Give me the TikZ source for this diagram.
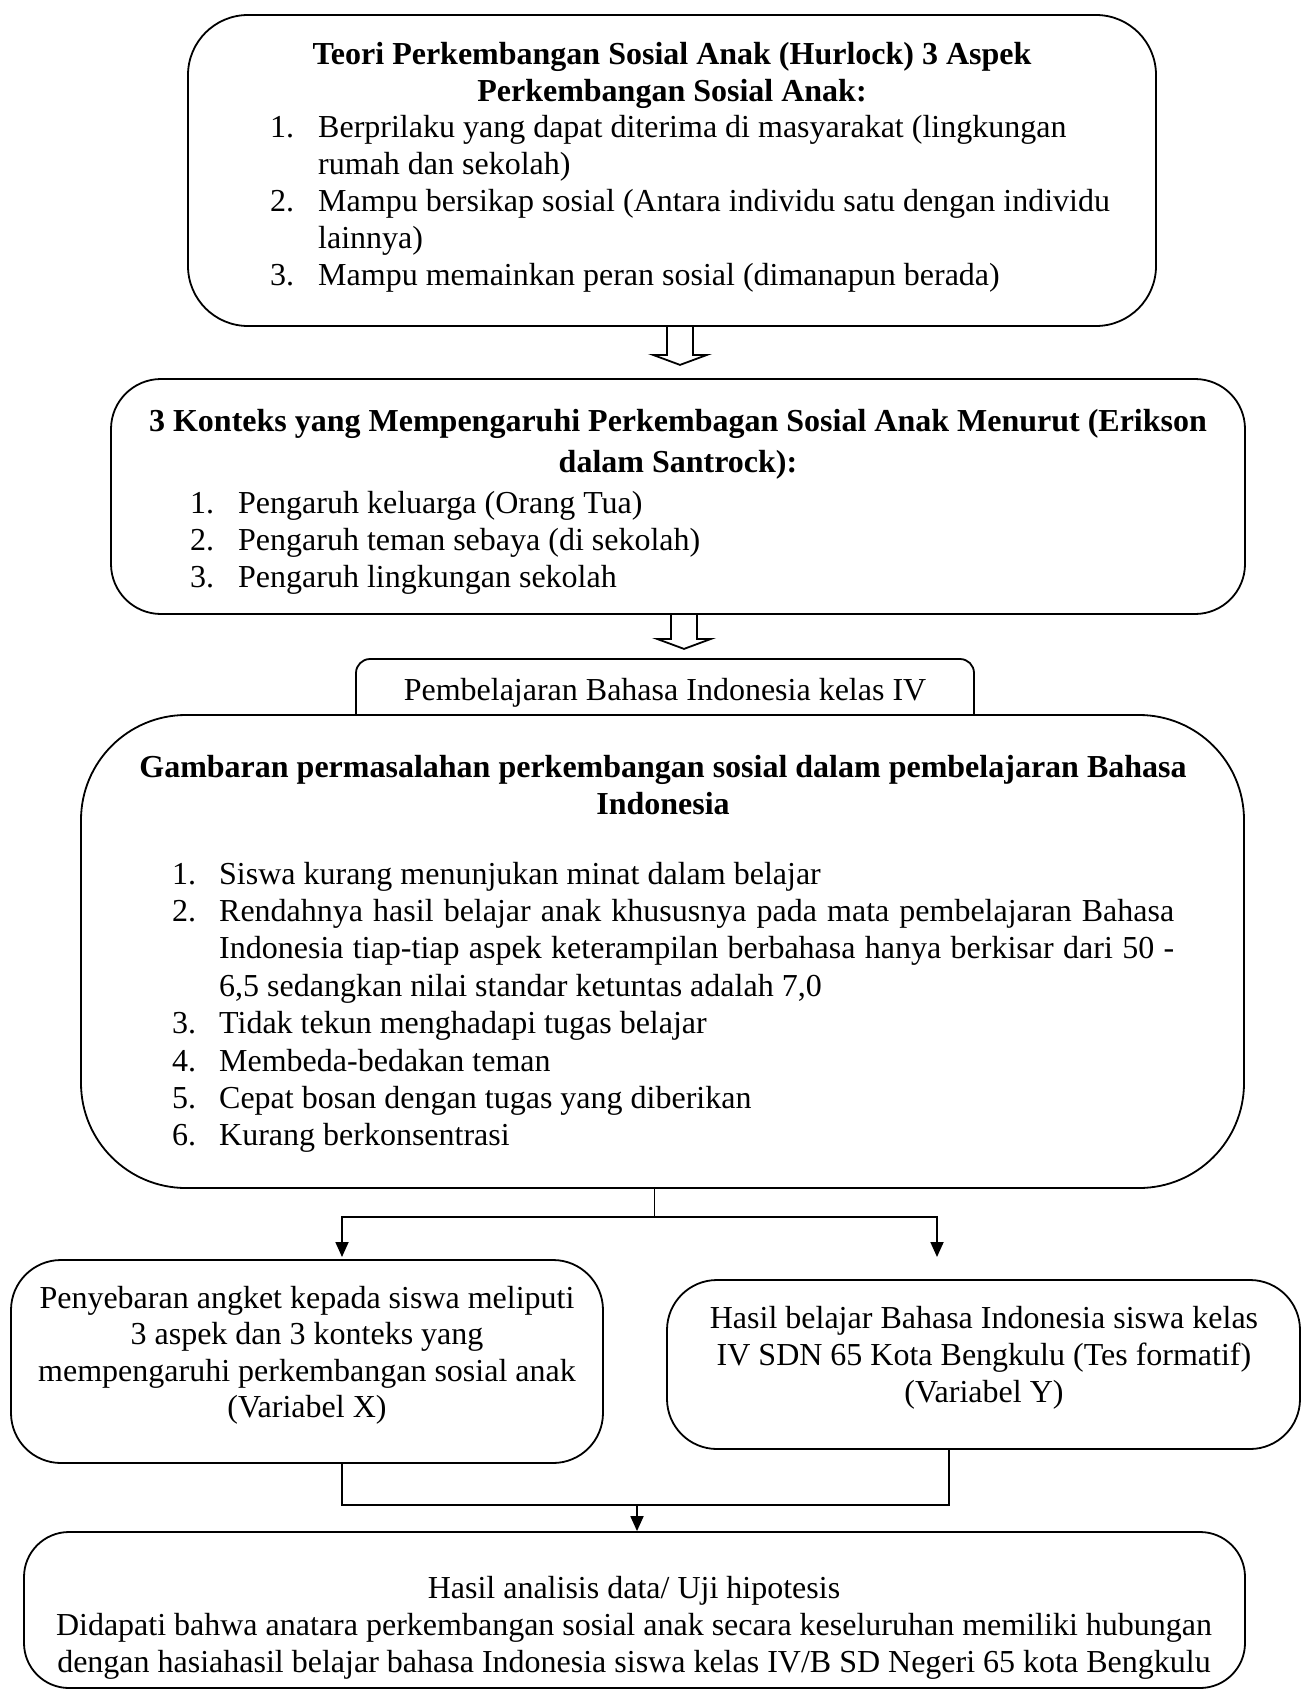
\documentclass[tikz,border=0pt]{standalone}
\usepackage{fontspec}
\setmainfont{Liberation Serif}
\usetikzlibrary{arrows.meta,calc}
\begin{document}
\begin{tikzpicture}[x=1pt,y=-1pt,
  box/.style={draw, line width=1.8pt, inner sep=0pt, fill=white},
  txt/.style={inner sep=0pt, anchor=north, align=center, font=\fontsize{32}{37}\selectfont},
  lst/.style={inner sep=0pt, anchor=north west, align=left, font=\fontsize{32}{37}\selectfont},
  conn/.style={line width=1.8pt},
  arr/.style={conn, -{Triangle[width=13pt,length=15pt]}},
  hollow/.style={line width=1.8pt, line join=miter}]
\useasboundingbox (0,0) rectangle (1302,1691);

% boxes
\node[box, minimum width=968pt, minimum height=311pt, rounded corners=60pt] (b1) at (672,170.5) {};
\node[box, minimum width=1134pt, minimum height=235pt, rounded corners=50pt] (b2) at (678,496.5) {};
\node[box, minimum width=618pt, minimum height=72pt, rounded corners=14pt] (pb) at (665,695) {};
\node[box, minimum width=1163pt, minimum height=473pt, rounded corners=105pt] (b3) at (662.5,951.5) {};
\node[box, minimum width=592pt, minimum height=203pt, rounded corners=50pt] (bx) at (307,1361.5) {};
\node[box, minimum width=633pt, minimum height=169pt, rounded corners=50pt] (by) at (983.5,1364.5) {};
\node[box, minimum width=1221pt, minimum height=156pt, rounded corners=45pt] (bb) at (634.5,1610) {};

% texts
\node[txt, font=\bfseries\fontsize{32}{37}\selectfont] (t1) at (672,38.1)
  {\strut Teori Perkembangan Sosial Anak (Hurlock) 3 Aspek\\ \strut Perkembangan Sosial Anak:};
\node[lst] (l1) at (270,111.5)
  {\strut\makebox[48pt][l]{1.}Berprilaku yang dapat diterima di masyarakat (lingkungan\\
   \strut\hspace*{48pt}rumah dan sekolah)\\
   \strut\makebox[48pt][l]{2.}Mampu bersikap sosial (Antara individu satu dengan individu\\
   \strut\hspace*{48pt}lainnya)\\
   \strut\makebox[48pt][l]{3.}Mampu memainkan peran sosial (dimanapun berada)};

\node[txt, font=\bfseries\fontsize{32}{41}\selectfont] (t2) at (678,402.3)
  {\strut 3 Konteks yang Mempengaruhi Perkembagan Sosial Anak Menurut (Erikson\\ \strut dalam Santrock):};
\node[lst] (l2) at (190,487.1)
  {\strut\makebox[48pt][l]{1.}Pengaruh keluarga (Orang Tua)\\
   \strut\makebox[48pt][l]{2.}Pengaruh teman sebaya (di sekolah)\\
   \strut\makebox[48pt][l]{3.}Pengaruh lingkungan sekolah};

\node[inner sep=0pt, anchor=base, font=\fontsize{32}{37}\selectfont] (tp) at (665,700)
  {Pembelajaran Bahasa Indonesia kelas IV};

\node[txt, font=\bfseries\fontsize{32}{37}\selectfont] (t3) at (663,751.1)
  {\strut Gambaran permasalahan perkembangan sosial dalam pembelajaran Bahasa\\ \strut Indonesia};
\node[lst, font=\fontsize{32}{37.4}\selectfont] (l3) at (172,857.8)
  {\strut\makebox[47pt][l]{1.}Siswa kurang menunjukan minat dalam belajar\\
   \strut\makebox[47pt][l]{2.}\makebox[955pt][s]{Rendahnya hasil belajar anak khususnya pada mata pembelajaran Bahasa}\\
   \strut\hspace*{47pt}\makebox[955pt][s]{Indonesia tiap-tiap aspek keterampilan berbahasa hanya berkisar dari 50 -}\\
   \strut\hspace*{47pt}6,5 sedangkan nilai standar ketuntas adalah 7,0\\
   \strut\makebox[47pt][l]{3.}Tidak tekun menghadapi tugas belajar\\
   \strut\makebox[47pt][l]{4.}Membeda-bedakan teman\\
   \strut\makebox[47pt][l]{5.}Cepat bosan dengan tugas yang diberikan\\
   \strut\makebox[47pt][l]{6.}Kurang berkonsentrasi};

\node[txt, font=\fontsize{32}{36.5}\selectfont] (tx) at (307,1282.4)
  {\strut Penyebaran angket kepada siswa meliputi\\ \strut 3 aspek dan 3 konteks yang\\
   \strut mempengaruhi perkembangan sosial anak\\ \strut (Variabel X)};
\node[txt] (ty) at (984,1302.1)
  {\strut Hasil belajar Bahasa Indonesia siswa kelas\\ \strut IV SDN 65 Kota Bengkulu (Tes formatif)\\
   \strut (Variabel Y)};
\node[txt] (tb) at (634,1572.1)
  {\strut Hasil analisis data/ Uji hipotesis\\
   \strut Didapati bahwa anatara perkembangan sosial anak secara keseluruhan memiliki hubungan\\
   \strut dengan hasiahasil belajar bahasa Indonesia siswa kelas IV/B SD Negeri 65 kota Bengkulu};

% hollow arrows
\coordinate (h1) at ($(b1.south)+(8,0)$);
\draw[hollow] ($(h1)+(-13,0)$) -- ++(0,28) -- ++(-14,0) -- ($(h1)+(0,38)$) -- ($(h1)+(27,28)$) -- ++(-14,0) -- ++(0,-28);
\coordinate (h2) at ($(b2.south)+(6,0)$);
\draw[hollow] ($(h2)+(-13,0)$) -- ++(0,24) -- ++(-14,0) -- ($(h2)+(0,34)$) -- ($(h2)+(27,24)$) -- ++(-14,0) -- ++(0,-24);

% connectors
\coordinate (j1) at ($(b3.south)+(-8,0)$);
\coordinate (j2) at ($(j1)+(0,28)$);
\coordinate (tl) at (342,1257);
\coordinate (tr) at (937,1257);
\draw[conn] (j1) -- (j2);
\draw[arr] (j2) -| (tl);
\draw[arr] (j2) -| (tr);

\coordinate (kl) at ($(bx.south)+(35,0)$);
\coordinate (kr) at ($(by.south)+(-34.5,0)$);
\coordinate (m) at (637,1505);
\draw[conn] (kl) |- (m) -| (kr);
\draw[arr] (m) -- (m |- bb.north);
\end{tikzpicture}
\end{document}
